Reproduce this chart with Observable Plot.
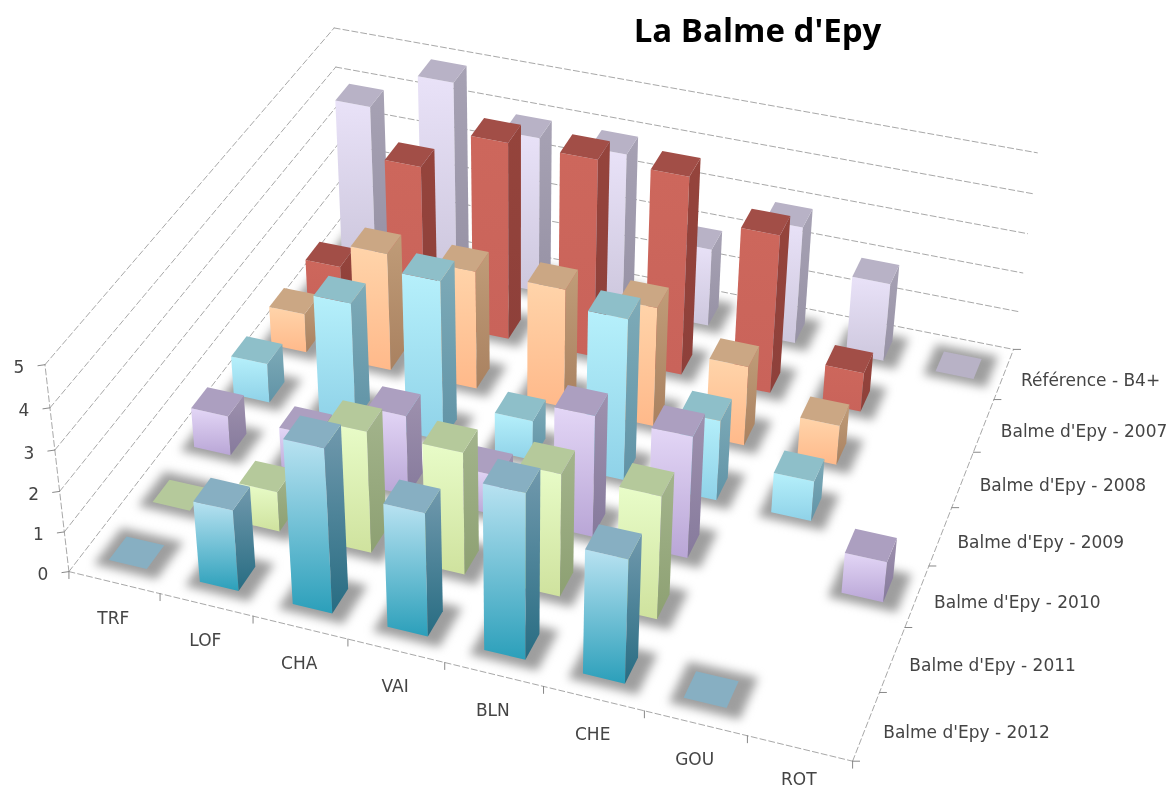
<!DOCTYPE html>
<html><head><meta charset="utf-8">
<script src="https://cdn.jsdelivr.net/npm/d3@7"></script>
<script src="https://cdn.jsdelivr.net/npm/@observablehq/plot@0.6"></script>
<style>html,body{margin:0;background:#fff}svg{display:block}</style>
</head><body><div id="chart"></div>
<script>
const categories = ["TRF","LOF","CHA","VAI","BLN","CHE","GOU","ROT"];
const seriesNames = ["Balme d'Epy - 2012","Balme d'Epy - 2011","Balme d'Epy - 2010","Balme d'Epy - 2009","Balme d'Epy - 2008","Balme d'Epy - 2007","Référence - B4+"];
const v2012 = [0,2,4,3,4,3,0,null];
const v2011 = [0,1,3,3,3,3,null,null];
const v2010 = [1,1,2,1,3,3,null,1];
const v2009 = [1,3,4,1,4,2,1,null];
const v2008 = [1,3,3,3,3,2,1,null];
const v2007 = [1,4,5,5,5,4,1,null];
const vRef  = [4,5,4,4,2,3,2,0];
const seriesValues = [v2012,v2011,v2010,v2009,v2008,v2007,vRef];
const valueTicks = [0,1,2,3,4,5];
// face colours per series: front top, front bottom, side top, side bottom, roof
const frontTop = ["#b8e2f1","#e8fcc8","#e3d6f6","#b6f0fb","#ffd4aa","#cd675c","#e9e2f8"];
const frontBot = ["#2b9fba","#cfe29e","#b9a6d6","#8fd2e8","#ffb98a","#c9635a","#cdc7dd"];
const sideTop  = ["#7199ad","#a3b48c","#9e91ae","#7eabb8","#c09c78","#95443c","#a7a2b4"];
const sideBot  = ["#276c82","#8da072","#867a9c","#6093a6","#a98160","#8e403a","#9792a5"];
const roof     = ["#87afc2","#b5c99b","#ac9fc0","#8ebfc9","#cba784","#a24e47","#b8b2c6"];

// camera fit: floor/wall anchors (category units, series units, value) -> page pixels
const W = 1174, H = 789, nU = categories.length, nV = seriesNames.length, zMax = 5;
const anchors = [
  [0,0,0,68,571],[nU,0,0,852,761],[nU,nV,0,1013,348],[0,nV,0,342,217],
  [0,0,zMax,45,364],[nU,nV,zMax,1037,153],[0,nV,zMax,333,27]
];
function fitCamera(pts){
  const A=[],b=[];
  for(const [u,v,z,x,y] of pts){
    A.push([u,v,z,1,0,0,0,0,-x*u,-x*v,-x*z]); b.push(x);
    A.push([0,0,0,0,u,v,z,1,-y*u,-y*v,-y*z]); b.push(y);
  }
  const n=11, M=Array.from({length:n},(_,i)=>{
    const r=Array(n+1).fill(0);
    for(let k=0;k<A.length;k++){for(let j=0;j<n;j++) r[j]+=A[k][i]*A[k][j]; r[n]+=A[k][i]*b[k];}
    return r;});
  for(let i=0;i<n;i++) M[i][i]+=1e-9;
  for(let i=0;i<n;i++){
    let p=i; for(let r=i+1;r<n;r++) if(Math.abs(M[r][i])>Math.abs(M[p][i])) p=r;
    [M[i],M[p]]=[M[p],M[i]];
    for(let r=0;r<n;r++) if(r!==i){const f=M[r][i]/M[i][i]; for(let c=i;c<=n;c++) M[r][c]-=f*M[i][c];}
  }
  return M.map((r,i)=>r[n]/r[i]);
}
const P = fitCamera(anchors);
function project(u,v,z){
  const w=P[8]*u+P[9]*v+P[10]*z+1;
  return [(P[0]*u+P[1]*v+P[2]*z+P[3])/w,(P[4]*u+P[5]*v+P[6]*z+P[7])/w];
}

const barW=0.42, barD=0.4;
const faces=[], shadows=[];
function pushFace(arr,id,fill,corners){
  for(const c of [...corners,corners[0]]){const [x,y]=project(...c); arr.push({id,fill,x,y});}
}
for(let j=nV-1;j>=0;j--){
  for(let i=0;i<nU;i++){
    const val=seriesValues[j][i];
    if(val==null) continue;
    const u0=i+(1-barW)/2,u1=u0+barW,v0=j+(1-barD)/2,v1=v0+barD,id=`${j}-${i}`;
    const g=0.11;
    pushFace(shadows,id,"#9e9e9e",[[u0-g,v0-g,0],[u1+g+0.05,v0-g,0],[u1+g+0.05,v1+g,0],[u0-g,v1+g,0]]);
    if(val>0){
      pushFace(faces,id+"f",`url(#front${j})`,[[u0,v0,val],[u1,v0,val],[u1,v0,0],[u0,v0,0]]);
      pushFace(faces,id+"s",`url(#side${j})`,[[u1,v0,val],[u1,v1,val],[u1,v1,0],[u1,v0,0]]);
    }
    pushFace(faces,id+"t",roof[j],[[u0,v0,val],[u1,v0,val],[u1,v1,val],[u0,v1,val]]);
  }
}
const grid=[];
for(const z of valueTicks){
  pushLine(`l${z}`,[[0,0,z],[0,nV,z]]);
  pushLine(`b${z}`,[[0,nV,z],[nU,nV,z]]);
}
pushLine("fr",[[0,0,0],[nU,0,0]]);
pushLine("ri",[[nU,0,0],[nU,nV,0]]);
pushLine("ax",[[0,0,0],[0,0,zMax]]);
function pushLine(id,cs){for(const c of cs){const [x,y]=project(...c);grid.push({id,x,y});}}
const ticks=[];
function tick(id,c,dx,dy){const [x,y]=project(...c);ticks.push({id,x,y},{id,x:x+dx,y:y+dy});}
valueTicks.forEach(z=>tick(`z${z}`,[0,0,z],-7,1));
d3.range(nU+1).forEach(i=>tick(`u${i}`,[i,0,0],0,7));
d3.range(nV+1).forEach(j=>tick(`v${j}`,[nU,j,0],7,0));

const valueLabels=valueTicks.map(z=>{const [x,y]=project(0,0,z);return {t:z,x:x-26,y:y+3};});
const catLabels=categories.map((t,i)=>{const [x,y]=project(i+0.5,0,0);return {t,x:x-1,y:Math.min(y+36,H-10)};});
const serLabels=seriesNames.map((t,j)=>{const [x,y]=project(nU,j+0.5,0);return {t,x:x+17,y:y+6};});

function defs(){
  const d=d3.create("svg:defs");
  const grad=(id,a,b)=>{const g=d.append("linearGradient").attr("id",id).attr("x1",0).attr("y1",0).attr("x2",0).attr("y2",1);
    g.append("stop").attr("offset",0).attr("stop-color",a);g.append("stop").attr("offset",1).attr("stop-color",b);};
  seriesNames.forEach((_,j)=>{grad(`front${j}`,frontTop[j],frontBot[j]);grad(`side${j}`,sideTop[j],sideBot[j]);});
  return d.node();
}
const txt={fontFamily:"'DejaVu Sans'",fontSize:17,fill:"#444"};
const plot=Plot.plot({
  width:W,height:H,margin:0,
  x:{domain:[0,W],range:[0,W],axis:null},
  y:{domain:[0,H],range:[0,H],axis:null},
  color:{type:"identity"},
  style:{background:"#fff",filter:"blur(0.7px)"},
  marks:[
    defs,
    Plot.line(grid,{x:"x",y:"y",z:"id",stroke:"#a8a8a8",strokeWidth:1,strokeDasharray:"6,3"}),
    Plot.line(ticks,{x:"x",y:"y",z:"id",stroke:"#888",strokeWidth:1}),
    Plot.line(shadows,{x:"x",y:"y",z:"id",fill:"fill",imageFilter:"blur(5px)"}),
    Plot.line(faces,{x:"x",y:"y",z:"id",fill:"fill"}),
    Plot.text(valueLabels,{x:"x",y:"y",text:"t",...txt}),
    Plot.text(catLabels,{x:"x",y:"y",text:"t",...txt}),
    Plot.text(serLabels,{x:"x",y:"y",text:"t",...txt,textAnchor:"start"}),
    Plot.text(["La Balme d'Epy"],{frameAnchor:"top",dx:170,dy:18,fontFamily:"'Open Sans'",fontWeight:700,fontSize:33,fill:"#000",lineAnchor:"top"})
  ]
});
document.getElementById("chart").append(plot);
</script></body></html>
